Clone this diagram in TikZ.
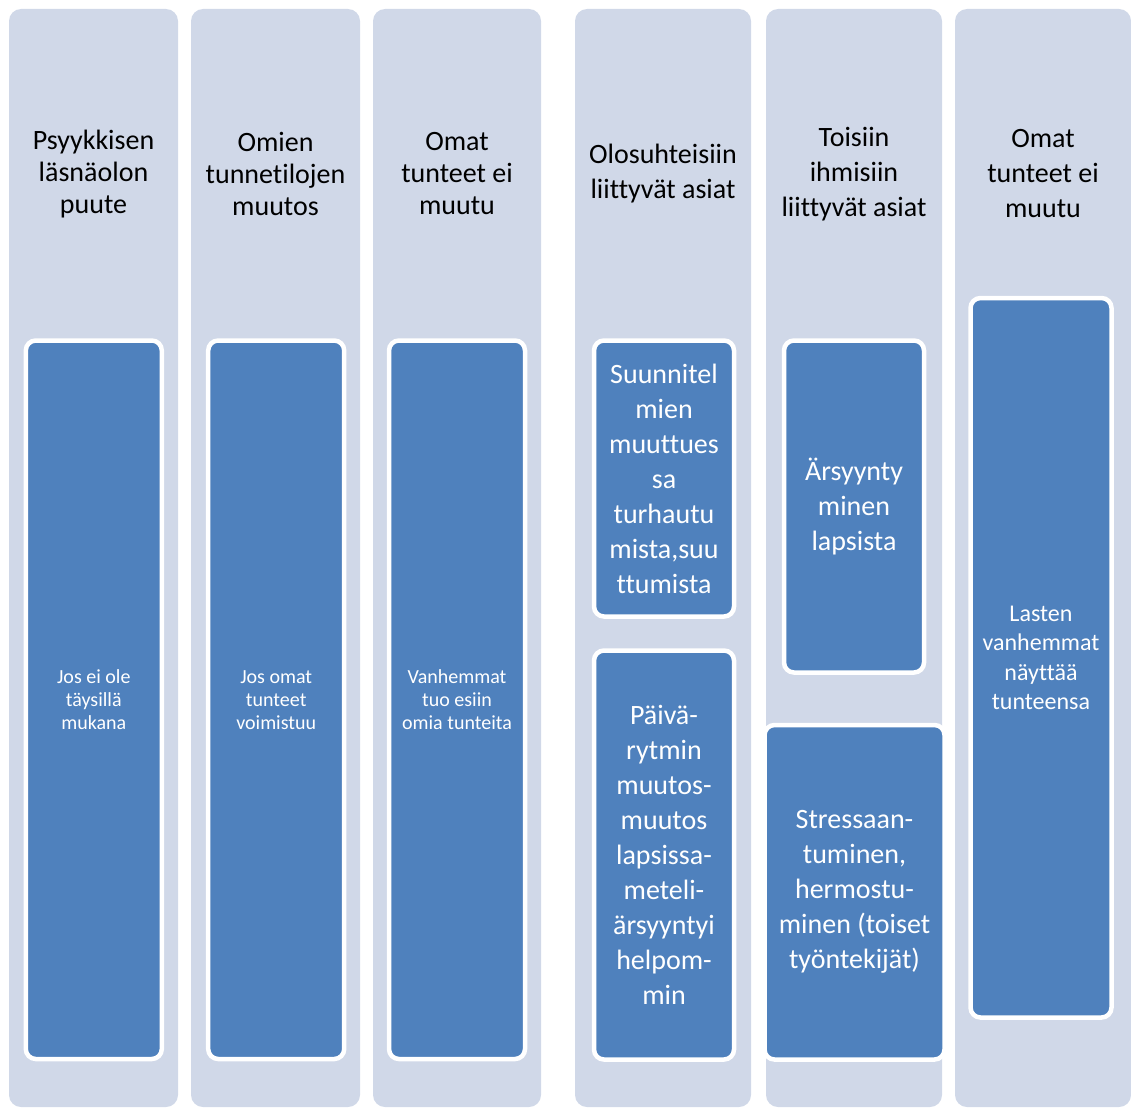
\documentclass[tikz,border=0pt]{standalone}
\usepackage{fontspec}
\setmainfont{Carlito}[RawFeature={-liga;-clig}]
\begin{document}
\begin{tikzpicture}[x=1pt,y=-1pt,
  lane/.style={fill=laneblue, rounded corners=12pt, anchor=north west, inner sep=0pt, outer sep=0pt},
  card/.style={fill=cardblue, draw=white, line width=4.5pt, rounded corners=10pt,
    anchor=north west, inner sep=0pt, outer sep=0pt, text=white, align=center},
  head/.style={inner sep=0pt, align=center, text=black},
  big/.style={font=\fontsize{28}{35}\selectfont},
  headA/.style={font=\fontsize{28}{32}\selectfont},
  small/.style={font=\fontsize{20}{23}\selectfont},
  mid/.style={font=\fontsize{24}{29.5}\selectfont}]
\definecolor{laneblue}{HTML}{D0D8E8}
\definecolor{cardblue}{HTML}{4F81BD}
\useasboundingbox (0,0) rectangle (1131,1108);

% vertical lanes
\node[lane, minimum width=169pt, minimum height=1098pt] (l1) at (9,9) {};
\node[lane, minimum width=169pt, minimum height=1098pt] (l2) at (191,9) {};
\node[lane, minimum width=168pt, minimum height=1098pt] (l3) at (373,9) {};
\node[lane, minimum width=176pt, minimum height=1098pt] (l4) at (575,9) {};
\node[lane, minimum width=176pt, minimum height=1098pt] (l5) at (766,9) {};
\node[lane, minimum width=176pt, minimum height=1098pt] (l6) at (955,9) {};

% lane headings
\node[head, headA] (h1) at (93.5,174) {Psyykkisen\\läsnäolon\\puute};
\node[head, headA] (h2) at (275.5,174) {Omien\\tunnetilojen\\muutos};
\node[head, headA] (h3) at (457,174) {Omat\\tunteet ei\\muutu};
\node[head, big] (h4) at (663,174) {Olosuhteisiin\\liittyvät asiat};
\node[head, big] (h5) at (854,174) {Toisiin\\ihmisiin\\liittyvät asiat};
\node[head, big] (h6) at (1043,174) {Omat\\tunteet ei\\muutu};

% cards
\node[card, small, minimum width=136pt, minimum height=718.5pt] (c1) at (25.8,340.5)
  {Jos ei ole\\täysillä\\mukana};
\node[card, small, minimum width=136pt, minimum height=718.5pt] (c2) at (208.2,340.5)
  {Jos omat\\tunteet\\voimistuu};
\node[card, small, minimum width=136pt, minimum height=718.5pt] (c3) at (389,340.5)
  {Vanhemmat\\tuo esiin\\omia tunteita};
\node[card, big, minimum width=140pt, minimum height=276pt] (c4a) at (594,340.5)
  {Suunnitel\\mien\\muuttues\\sa\\turhautu\\mista,suu\\ttumista};
\node[card, big, minimum width=140pt, minimum height=409pt] (c4b) at (594,650.5)
  {Päivä-\\rytmin\\muutos-\\muutos\\lapsissa-\\meteli-\\ärsyyntyi\\helpom-\\min};
\node[card, big, minimum width=140pt, minimum height=332pt] (c5a) at (784,340.5)
  {Ärsyynty\\minen\\lapsista};
\node[card, big, minimum width=180pt, minimum height=334.5pt] (c5b) at (764.5,725)
  {Stressaan-\\tuminen,\\hermostu-\\minen (toiset\\työntekijät)};
\node[card, mid, minimum width=141pt, minimum height=719.5pt] (c6) at (970.5,298)
  {Lasten\\vanhemmat\\näyttää\\tunteensa};
\end{tikzpicture}
\end{document}
